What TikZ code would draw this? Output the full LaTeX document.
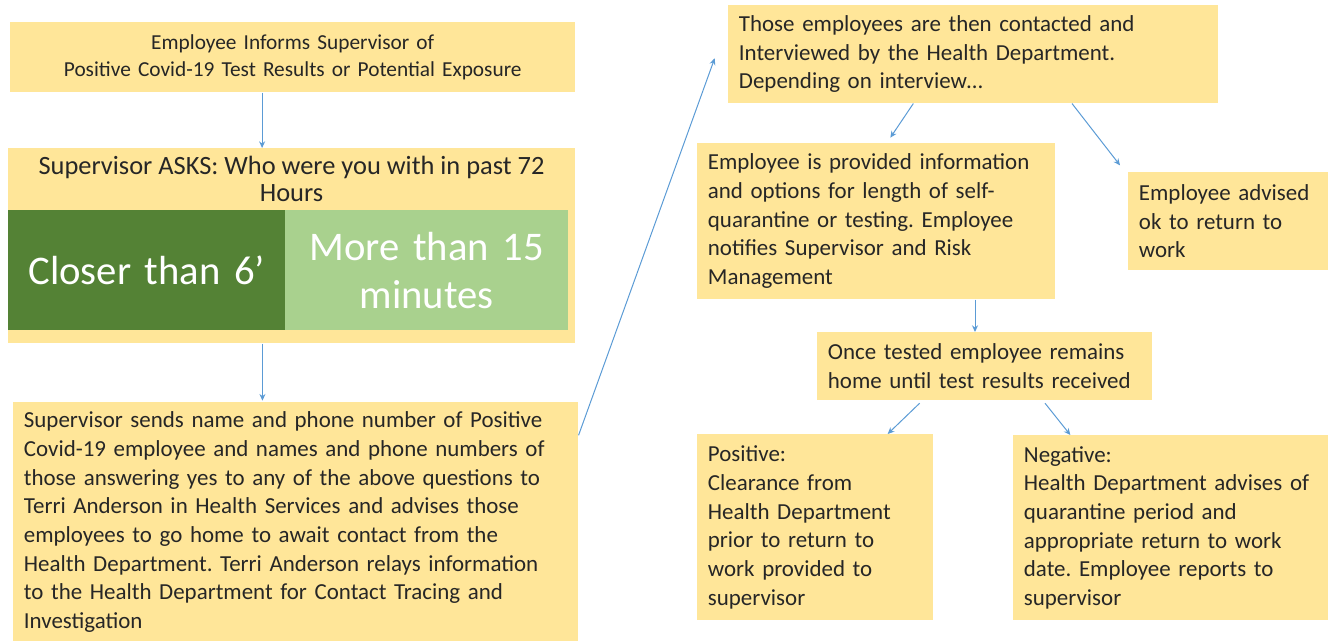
\documentclass[tikz,border=0pt]{standalone}
\usepackage{fontspec}
\setmainfont{Carlito}
\usetikzlibrary{arrows.meta}
\frenchspacing

\definecolor{boxyellow}{HTML}{FFE699}
\definecolor{darkgreen}{HTML}{548235}
\definecolor{lightgreen}{HTML}{A9D18E}
\definecolor{arrowblue}{HTML}{5B9BD5}
\definecolor{textgray}{HTML}{262626}

\tikzset{
  box/.style={fill=boxyellow, anchor=north west, inner xsep=8pt, inner ysep=2pt,
    align=left, text=textgray, font=\fontsize{17.2}{21.5}\selectfont},
  greenbox/.style={anchor=north west, inner sep=0pt, align=center, text=white,
    font=\fontsize{30.5}{36}\selectfont},
  flow/.style={draw=arrowblue, line width=0.75pt, -{Stealth[length=5pt,width=4.5pt]}}
}

\begin{document}
\begin{tikzpicture}[x=0.75pt, y=-0.75pt]
    \useasboundingbox (0,0) rectangle (1328,641);
    % left column
    \node[box, align=center, text width=407.75pt, minimum height=52.5pt,
      font=\fontsize{16}{20.25}\selectfont] at (10,22) (inform)
      {Employee Informs Supervisor of\\Positive Covid-19 Test Results or Potential Exposure};
    \node[box, text width=409.25pt, minimum height=146.25pt] at (8,148) (asks) {};
    \node[align=center, text=textgray, font=\fontsize{19.8}{20.25}\selectfont] at (291.5,179) (askq)
      {Supervisor ASKS: Who were you with in past 72\\Hours};
    \node[greenbox, fill=darkgreen, text width=207.75pt, minimum height=90pt] at (8,210) (close)
      {Closer than 6’};
    \node[greenbox, fill=lightgreen, text width=212.25pt, minimum height=90pt] at (285,210) (more)
      {More than 15\\minutes};
    \node[box, text width=407.75pt, minimum height=180pt] at (13,402) (send)
      {Supervisor sends name and phone number of Positive\\
       Covid-19 employee and names and phone numbers of\\
       those answering yes to any of the above questions to\\
       Terri Anderson in Health Services and advises those\\
       employees to go home to await contact from the\\
       Health Department. Terri Anderson relays information\\
       to the Health Department for Contact Tracing and\\
       Investigation};
    % right column
    \node[box, text width=351.5pt, minimum height=73.5pt] at (728,5) (hd)
      {Those employees are then contacted and\\
       Interviewed by the Health Department.\\
       Depending on interview\dots};
    \node[box, text width=252.5pt, minimum height=117pt] at (697,143) (prov)
      {Employee is provided information\\
       and options for length of self-\\
       quarantine or testing. Employee\\
       notifies Supervisor and Risk\\
       Management};
    \node[box, text width=134pt, minimum height=73.5pt] at (1128,172) (okay)
      {Employee advised\\ok to return to\\work};
    \node[box, text width=235.25pt, minimum height=51pt] at (817,332) (tested)
      {Once tested employee remains\\home until test results received};
    \node[box, text width=161pt, minimum height=139.5pt] at (697,434) (pos)
      {Positive:\\Clearance from\\Health Department\\prior to return to\\work provided to\\supervisor};
    \node[box, text width=220.25pt, minimum height=138.75pt] at (1013,435) (neg)
      {Negative:\\Health Department advises of\\quarantine period and\\appropriate return to work\\date. Employee reports to\\supervisor};
    % connectors
    \draw [flow] ([xshift=-23pt]inform.south) -- ([xshift=-23pt]inform.south |- asks.north);
    \draw [flow] ([xshift=-22pt]asks.south) -- ([xshift=-22pt,yshift=1pt]asks.south |- send.north);
    \draw [flow] ([yshift=-25pt]send.north east) -- ([xshift=-10pt,yshift=-3pt]hd.west);
    \draw [flow] ([xshift=139pt]hd.south west) -- ([xshift=145pt,yshift=4pt]prov.north west);
    \draw [flow] ([xshift=258pt]hd.south west) -- ([xshift=-6pt,yshift=5pt]okay.north west);
    \draw [flow] ([xshift=208.5pt]prov.south west) -- ([xshift=118.5pt]tested.north west);
    \draw [flow] ([xshift=77pt,yshift=-2pt]tested.south west) -- ([xshift=143pt]pos.north west);
    \draw [flow] ([xshift=171pt,yshift=-2pt]tested.south west) -- ([xshift=43pt]neg.north west);
\end{tikzpicture}
\end{document}
